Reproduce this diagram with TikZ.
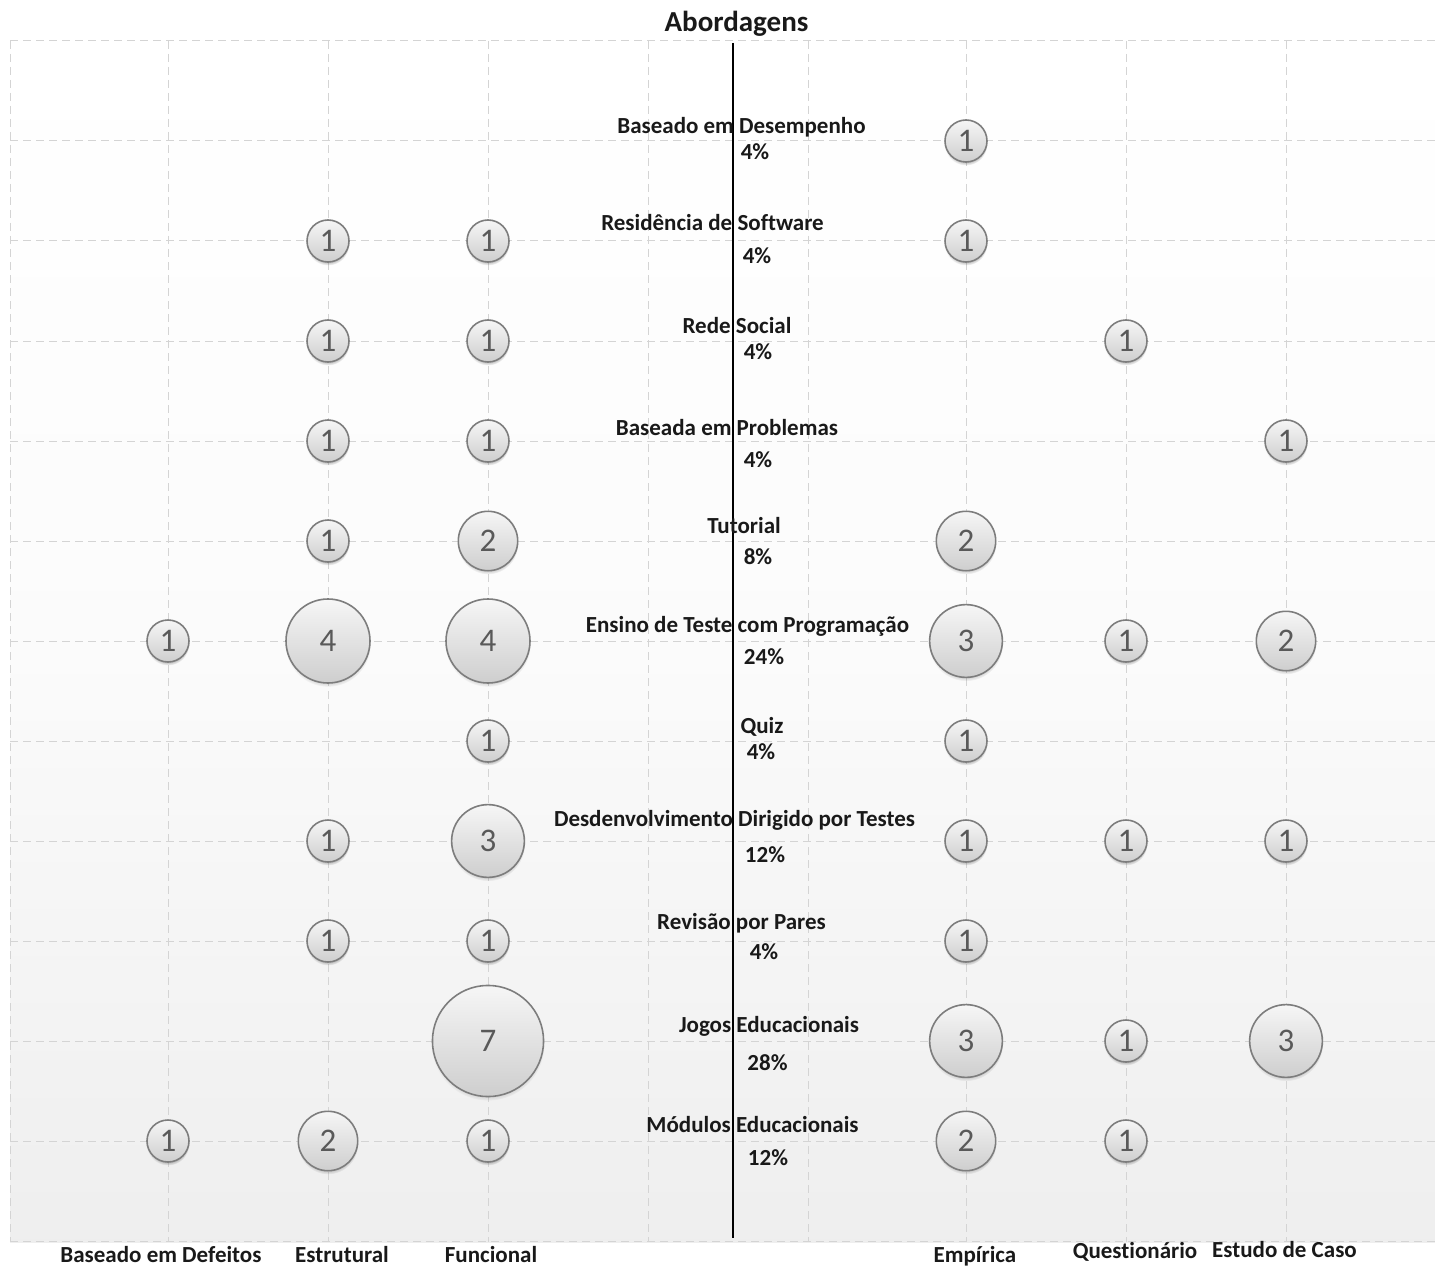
\documentclass[tikz,border=0pt]{standalone}
\usepackage{fontspec}
\setmainfont{Carlito}[RawFeature={-liga,-clig,-calt}]
\usetikzlibrary{shadows}
\definecolor{gridc}{RGB}{212,212,212}
\definecolor{numc}{RGB}{89,89,89}
\definecolor{bubtop}{RGB}{246,246,246}
\definecolor{bubbot}{RGB}{206,206,206}
\definecolor{bubedge}{RGB}{125,125,125}
\tikzset{
  gridline/.style={draw=gridc, line width=1pt, dash pattern=on 8pt off 5pt},
  lbl/.style={font=\fontsize{23}{23}\selectfont\bfseries, anchor=base, inner sep=0pt, text=black!90},
  bub/.style={circle, draw=bubedge, line width=1.6pt, top color=bubtop, bottom color=bubbot,
    minimum size={42*sqrt(#1)}, inner sep=0pt, text=numc,
    font=\fontsize{33}{33}\selectfont,
    circular drop shadow={shadow xshift=0pt, shadow yshift=-3pt, opacity=0.22, fill=black, shadow scale=1.02}},
}
\begin{document}
\begin{tikzpicture}[x=1pt, y=-1pt]
\useasboundingbox (0,0) rectangle (1435,1268);
% background
\shade[top color=white, bottom color=gray!13, middle color=white!97!gray] (10,41) rectangle (1435,1242);
% grid
\foreach \gy in {41,141,...,1241} { \draw[gridline] (10,\gy) -- (1435,\gy); }
\foreach \gx in {10,168,328,488,648,808,966,1126,1286} { \draw[gridline] (\gx,41) -- (\gx,1242); }
% central axis
\coordinate (axtop) at (733,43);
\coordinate (axbot) at (733,1238);
\draw[black, line width=1.6pt] (axtop) -- (axbot);
% title
\node[lbl, font=\fontsize{29}{29}\selectfont\bfseries] (title) at (736.5,32) {Abordagens};
% row labels
\foreach \lx/\ly/\px/\py/\t/\p [count=\i] in {
  741.5/134/755/160/{Baseado em Desempenho}/{4\%},
  712.5/231/757/263/{Residência de Software}/{4\%},
  737/333/758/359/{Rede Social}/{4\%},
  727/435/758/467/{Baseada em Problemas}/{4\%},
  744/533/758/564/{Tutorial}/{8\%},
  747.5/632/764/664/{Ensino de Teste com Programação}/{24\%},
  762/733/761/759/{Quiz}/{4\%},
  734.5/826/765/862/{Desdenvolvimento Dirigido por Testes}/{12\%},
  741.5/929/764/959/{Revisão por Pares}/{4\%},
  769/1032/767.5/1070/{Jogos Educacionais}/{28\%},
  752.5/1132/768/1165/{Módulos Educacionais}/{12\%}} {
  \node[lbl] (row\i) at (\lx,\ly) {\t};
  \node[lbl] (pct\i) at (\px,\py) {\p};
}
% bubbles
\foreach \bx/\by/\n [count=\i] in {
  966/141/1,
  328/241/1, 488/241/1, 966/241/1,
  328/341/1, 488/341/1, 1126/341/1,
  328/441/1, 488/441/1, 1286/441/1,
  328/541/1, 488/541/2, 966/541/2,
  168/641/1, 328/641/4, 488/641/4, 966/641/3, 1126/641/1, 1286/641/2,
  488/741/1, 966/741/1,
  328/841/1, 488/841/3, 966/841/1, 1126/841/1, 1286/841/1,
  328/941/1, 488/941/1, 966/941/1,
  488/1041/7, 966/1041/3, 1126/1041/1, 1286/1041/3,
  168/1141/1, 328/1141/2, 488/1141/1, 966/1141/2, 1126/1141/1} {
  \node[bub=\n] (b\i) at (\bx,\by) {\raisebox{-1pt}{\n}};
}
% column labels
\node[lbl] (c1) at (161,1262) {Baseado em Defeitos};
\node[lbl] (c2) at (342,1262) {Estrutural};
\node[lbl] (c3) at (491,1262) {Funcional};
\node[lbl] (c4) at (975,1262) {Empírica};
\node[lbl] (c5) at (1135,1258) {Questionário};
\node[lbl] (c6) at (1284.5,1257) {Estudo de Caso};
\end{tikzpicture}
\end{document}
